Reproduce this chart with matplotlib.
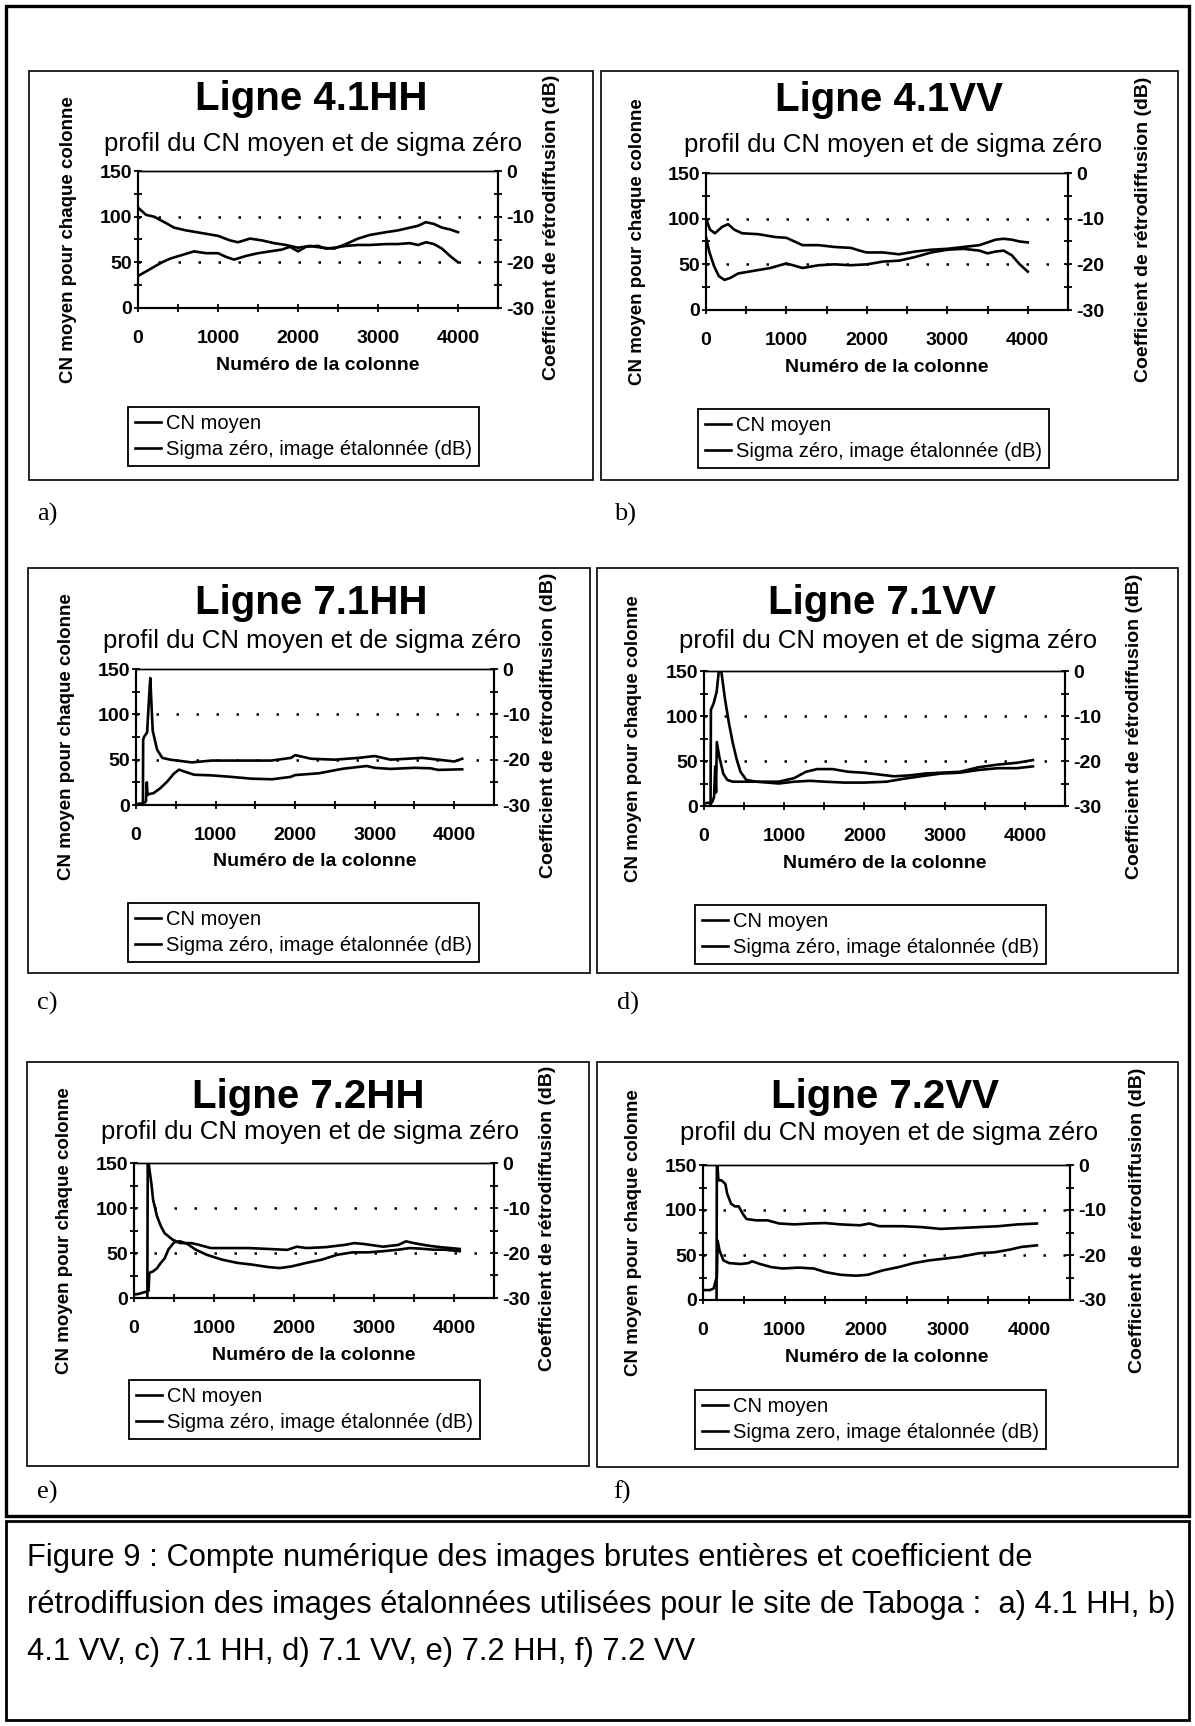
import matplotlib
matplotlib.use("Agg")
import matplotlib.pyplot as plt
from matplotlib.patches import Rectangle
from matplotlib.ticker import FixedLocator

plt.rcParams["font.family"] = ["Liberation Sans", "DejaVu Sans"]

# ---------------------------------------------------------------- data
# Column numbers and profiles: CN moyen (left axis, 0-150) and
# sigma zero in dB (right axis, -30..0). Values below -30 dB are off-scale.

hh41_cn_x = [0, 100, 200, 300, 400, 550, 700, 850, 1000, 1100, 1200, 1350, 1500, 1650,
             1800, 1900, 2000, 2100, 2250, 2350, 2450, 2600, 2750, 2900, 3100, 3250,
             3400, 3500, 3600, 3700, 3800, 3900, 4000]
hh41_cn = [35, 40, 45, 50, 54, 58, 62, 60, 60, 56, 53, 57, 60, 62, 64, 67, 62, 67, 68, 65,
           66, 68, 69, 69, 70, 70, 71, 69, 72, 70, 65, 57, 50]
hh41_sig_x = [0, 100, 200, 350, 450, 600, 800, 1000, 1150, 1250, 1400, 1550, 1700, 1850,
              2000, 2150, 2300, 2450, 2600, 2750, 2900, 3100, 3250, 3400, 3500, 3600,
              3700, 3800, 3900, 4000]
hh41_sig = [-8.0, -9.6, -10.0, -11.4, -12.4, -13.0, -13.6, -14.2, -15.2, -15.6, -14.8,
            -15.2, -15.8, -16.2, -16.8, -16.4, -16.8, -17.0, -16.0, -14.8, -14.0, -13.4,
            -13.0, -12.4, -12.0, -11.2, -11.6, -12.4, -12.8, -13.4]

vv41_cn_x = [0, 40, 100, 160, 230, 300, 400, 600, 800, 1000, 1200, 1400, 1600, 1800,
             2000, 2200, 2400, 2600, 2800, 3000, 3200, 3400, 3500, 3600, 3700, 3800,
             3900, 4000]
vv41_cn = [80, 64, 48, 37, 33, 35, 40, 43, 46, 51, 46, 49, 50, 49, 50, 53, 54, 58, 63, 66,
           67, 65, 62, 64, 65, 60, 50, 42]
vv41_sig_x = [0, 50, 110, 200, 275, 350, 450, 650, 850, 1000, 1100, 1200, 1400, 1600,
              1800, 1950, 2000, 2200, 2400, 2600, 2800, 3000, 3200, 3400, 3600, 3700,
              3800, 3900, 4000]
vv41_sig = [-10.0, -12.4, -13.2, -11.8, -11.2, -12.4, -13.2, -13.4, -14.0, -14.2, -15.0,
            -15.8, -15.8, -16.2, -16.4, -17.2, -17.4, -17.4, -17.8, -17.2, -16.8, -16.6,
            -16.2, -15.8, -14.6, -14.4, -14.6, -15.0, -15.2]

hh71_cn_x = [0, 100, 125, 136, 145, 160, 220, 305, 390, 475, 540, 605, 730, 945, 1200,
             1455, 1710, 1945, 2000, 2300, 2600, 2800, 2900, 3000, 3200, 3500, 3700,
             3800, 4100]
hh71_cn = [1, 2, 4, 25, 11, 12, 13, 18.5, 25.6, 34.5, 39, 37, 33.4, 32.7, 31, 29, 28.4,
           31, 33, 35, 40, 42, 43, 41, 39.8, 41, 40.5, 38.7, 39.4]
hh71_sig_x = [0, 85, 90, 100, 140, 165, 180, 195, 210, 265, 330, 430, 700, 950, 1200,
              1450, 1700, 1950, 2000, 2200, 2500, 2800, 3000, 3200, 3400, 3600, 3800,
              4000, 4100]
hh71_sig = [-40.0, -40.0, -15.6, -15.0, -14.0, -6.0, -2.0, -8.0, -13.6, -17.8, -19.6,
            -20.0, -20.6, -20.2, -20.2, -20.2, -20.2, -19.6, -19.0, -19.8, -20.0, -19.6,
            -19.2, -20.0, -19.8, -19.6, -20.0, -20.4, -19.8]

vv71_cn_x = [0, 100, 125, 140, 150, 160, 190, 240, 290, 360, 450, 650, 930, 1125, 1270,
             1410, 1600, 1800, 1990, 2180, 2370, 2560, 2750, 2950, 3190, 3420, 3660,
             3900, 4100]
vv71_cn = [3, 4, 10, 44, 15, 71, 55, 36, 29, 27, 27, 27, 27, 31, 38, 41, 41, 38, 37, 35,
           33, 34, 36, 37, 38, 43, 46, 48, 51]
vv71_sig_x = [0, 80, 86, 120, 158, 196, 215, 263, 311, 359, 407, 455, 527, 650, 930,
              1125, 1320, 1510, 1750, 1990, 2275, 2470, 2700, 2950, 3190, 3420, 3660,
              3900, 4100]
vv71_sig = [-40.0, -40.0, -8.6, -7.2, -4.6, 2.0, 0.0, -6.4, -11.6, -16.0, -19.6, -22.4,
            -24.2, -24.6, -25.0, -24.6, -24.4, -24.6, -24.8, -24.8, -24.6, -24.0, -23.4,
            -22.8, -22.6, -22.0, -21.6, -21.6, -21.2]

hh72_cn_x = [0, 50, 168, 182, 192, 239, 287, 335, 383, 431, 503, 575, 670, 766, 910,
             1101, 1293, 1485, 1676, 1820, 1964, 2155, 2347, 2538, 2730, 2921, 3113,
             3305, 3448, 3592, 3736, 3879, 4071]
hh72_cn = [4, 4.4, 7.4, 8, 28, 29.6, 33, 39, 44, 54, 62, 63, 60, 54, 48, 42.6, 39, 37,
           34.4, 33.3, 35, 39, 42.6, 48, 50.7, 50.7, 52, 53.7, 55.5, 54.8, 53.7, 53.7, 52]
hh72_sig_x = [0, 165, 172, 182, 216, 239, 287, 335, 383, 479, 575, 718, 814, 958, 1197,
              1437, 1676, 1916, 2035, 2155, 2395, 2634, 2754, 2874, 3113, 3305, 3400,
              3496, 3688, 3831, 4071]
hh72_sig = [-40.0, -40.0, 2.0, 0.0, -4.4, -8.2, -11.8, -14.0, -15.6, -17.0, -17.8, -17.8,
            -18.2, -18.9, -18.9, -18.9, -19.1, -19.3, -18.6, -18.9, -18.7, -18.2, -17.8,
            -18.0, -18.6, -18.2, -17.4, -17.8, -18.4, -18.7, -19.1]

vv72_cn_x = [0, 85, 132, 156, 170, 179, 203, 250, 321, 462, 557, 604, 698, 840, 981,
             1170, 1358, 1500, 1689, 1877, 2019, 2208, 2396, 2585, 2774, 2962, 3151,
             3387, 3575, 3764, 3906, 4094]
vv72_cn = [11, 11, 13, 21.6, 25, 66, 55, 44, 41, 40, 41, 43, 40, 36.5, 35, 36, 35, 31,
           28, 27, 28, 33, 36.5, 41, 44, 46, 48, 52, 53, 56, 59, 60.7]
vv72_sig_x = [0, 165, 170, 189, 226, 274, 297, 344, 392, 439, 486, 533, 651, 792, 934,
              1123, 1311, 1500, 1689, 1925, 2042, 2160, 2443, 2679, 2915, 3151, 3387,
              3623, 3858, 4094]
vv72_sig = [-40.0, -40.0, 2.0, -3.4, -3.4, -4.2, -6.4, -8.6, -9.2, -9.2, -10.8, -12.0,
            -12.3, -12.3, -13.0, -13.2, -13.0, -12.9, -13.2, -13.4, -13.0, -13.6, -13.6,
            -13.8, -14.2, -14.0, -13.8, -13.6, -13.2, -13.0]

titles = ["Ligne 4.1HH", "Ligne 4.1VV", "Ligne 7.1HH", "Ligne 7.1VV",
          "Ligne 7.2HH", "Ligne 7.2VV"]
tags = ["a)", "b)", "c)", "d)", "e)", "f)"]
subtitle = "profil du CN moyen et de sigma zéro"
legend_cn = "CN moyen"
legend_sig = ["Sigma zéro, image étalonnée (dB)"] * 5 + ["Sigma zero, image étalonnée (dB)"]
xlabel = "Numéro de la colonne"
ylabel_left = "CN moyen pour chaque colonne"
ylabel_right = "Coefficient de rétrodiffusion (dB)"
x_ticks = [0, 1000, 2000, 3000, 4000]
cn_ticks = [0, 50, 100, 150]
db_ticks = [-30, -20, -10, 0]
db_tick_labels = ["-30", "-20", "-10", "0"]
caption_lines = [
    "Figure 9 : Compte numérique des images brutes entières et coefficient de",
    "rétrodiffusion des images étalonnées utilisées pour le site de Taboga :  a) 4.1 HH, b)",
    "4.1 VV, c) 7.1 HH, d) 7.1 VV, e) 7.2 HH, f) 7.2 VV",
]

series = [
    (hh41_cn_x, hh41_cn, hh41_sig_x, hh41_sig),
    (vv41_cn_x, vv41_cn, vv41_sig_x, vv41_sig),
    (hh71_cn_x, hh71_cn, hh71_sig_x, hh71_sig),
    (vv71_cn_x, vv71_cn, vv71_sig_x, vv71_sig),
    (hh72_cn_x, hh72_cn, hh72_sig_x, hh72_sig),
    (vv72_cn_x, vv72_cn, vv72_sig_x, vv72_sig),
]

# ---------------------------------------------------------------- layout (pixels)
W, H = 1195, 1726
layout = [
    # chart box, plot area, title centre/baseline, subtitle centre/baseline,
    # y-label x positions, legend top-left, tag position
    dict(box=(29, 71, 593, 480), plot=(138, 171, 498, 308), tx=311, ty=110, sx=313,
         sy=151, yl=69, yr=551, leg=(128, 407), tag=(37, 514)),
    dict(box=(601, 71, 1178, 480), plot=(706, 173, 1068, 310), tx=889, ty=111, sx=893,
         sy=152, yl=637, yr=1143, leg=(698, 409), tag=(614, 514)),
    dict(box=(28, 568, 590, 973), plot=(136, 669, 494, 805), tx=311, ty=614, sx=312,
         sy=648, yl=67, yr=549, leg=(128, 903), tag=(37, 1003)),
    dict(box=(597, 568, 1178, 973), plot=(704, 671, 1065, 806), tx=882, ty=614, sx=888,
         sy=648, yl=634, yr=1135, leg=(695, 905), tag=(617, 1003)),
    dict(box=(27, 1062, 589, 1466), plot=(134, 1163, 494, 1298), tx=308, ty=1108, sx=310,
         sy=1139, yl=65, yr=548, leg=(129, 1380), tag=(37, 1492)),
    dict(box=(597, 1062, 1178, 1467), plot=(703, 1165, 1070, 1300), tx=885, ty=1108,
         sx=889, sy=1140, yl=634, yr=1137, leg=(695, 1390), tag=(613, 1492)),
]

fig = plt.figure(figsize=(W / 100, H / 100), dpi=100)
fig.patch.set_facecolor("white")


def fx(x):
    return x / W


def fy(y):
    return 1 - y / H


def frame(x0, y0, x1, y1, lw):
    fig.add_artist(Rectangle((fx(x0), fy(y1)), fx(x1) - fx(x0), fy(y0) - fy(y1),
                             transform=fig.transFigure, fill=False,
                             edgecolor="black", linewidth=lw))


# outer frame and caption box
frame(6, 6, 1189, 1516, 2.4)
frame(6, 1521, 1189, 1720, 2.0)
for k, line in enumerate(caption_lines):
    fig.text(fx(27), fy(1566 + 47 * k), line, ha="left", va="baseline",
             fontsize=22.2, color="black")

LW = 1.9
for i, (spec, (cx, cy, sx, sy)) in enumerate(zip(layout, series)):
    bx0, by0, bx1, by1 = spec["box"]
    frame(bx0, by0, bx1, by1, 1.2)

    px0, py0, px1, py1 = spec["plot"]
    pw, ph = px1 - px0, py1 - py0
    ax = fig.add_axes([fx(px0), fy(py1), pw / W, ph / H])
    ax2 = ax.twinx()

    l_cn, = ax.plot(cx, cy, color="black", lw=LW)
    l_sig, = ax2.plot(sx, sy, color="black", lw=LW)

    ax.set_xlim(0, 4500)
    ax.set_ylim(0, 150)
    ax2.set_ylim(-30, 0)
    ax.set_facecolor("none")

    ax.set_xticks(x_ticks)
    ax.xaxis.set_minor_locator(FixedLocator([500, 1500, 2500, 3500]))
    ax.set_yticks(cn_ticks)
    ax.yaxis.set_minor_locator(FixedLocator([25, 75, 125]))
    ax2.set_yticks(db_ticks, labels=db_tick_labels)
    ax2.yaxis.set_minor_locator(FixedLocator([-25, -15, -5]))

    # dotted major grid (interior levels only)
    ax.grid(axis="y", which="major", color="black", linestyle=(0, (1, 7)), linewidth=1.8)
    gl = ax.get_ygridlines()
    gl[0].set_visible(False)
    gl[-1].set_visible(False)

    ax.tick_params(axis="both", which="both", direction="inout", length=6, width=1.3,
                   labelsize=14)
    ax.tick_params(axis="x", which="both", pad=13, top=False)
    ax.tick_params(axis="y", which="both", pad=1, right=False)
    ax2.tick_params(axis="y", which="both", direction="inout", length=6, width=1.3,
                    labelsize=14, pad=3)
    for lab in ax.get_xticklabels() + ax.get_yticklabels() + ax2.get_yticklabels():
        lab.set_fontweight("bold")

    for a in (ax, ax2):
        for side in ("left", "right", "bottom"):
            a.spines[side].set_linewidth(1.5)
        a.spines["top"].set_linewidth(1.0)

    ax.set_xlabel(xlabel, fontsize=14, fontweight="bold")
    ax.xaxis.label.set_va("center")
    ax.xaxis.set_label_coords(0.5, -57 / ph)

    ax.set_ylabel(ylabel_left, fontsize=13.5, fontweight="bold")
    ax.yaxis.label.set_va("center")
    ax.yaxis.set_label_coords((spec["yl"] - px0) / pw, 0.5)

    ax2.set_ylabel(ylabel_right, fontsize=14, fontweight="bold", rotation=90)
    ax2.yaxis.label.set_va("center")
    ax2.yaxis.set_label_coords((spec["yr"] - px0) / pw, 0.5 + 12 / ph)

    # titles
    fig.text(fx(spec["tx"]), fy(spec["ty"]), titles[i], ha="center", va="baseline",
             fontsize=29, fontweight="bold")
    fig.text(fx(spec["sx"]), fy(spec["sy"]), subtitle, ha="center",
             va="baseline", fontsize=18.5)

    # legend
    lx, ly = spec["leg"]
    leg = ax2.legend([l_cn, l_sig], [legend_cn, legend_sig[i]], loc="upper left",
                     bbox_to_anchor=(fx(lx), fy(ly)), bbox_transform=fig.transFigure,
                     frameon=True, fancybox=False, shadow=False, edgecolor="black",
                     framealpha=1, fontsize=14.5, handlelength=1.3, handletextpad=0.25,
                     borderpad=0.35, labelspacing=0.35, borderaxespad=0)
    leg.get_frame().set_linewidth(1.3)

    tx, ty = spec["tag"]
    fig.text(fx(tx), fy(ty), tags[i], ha="left", va="center", fontsize=19,
             family=["Liberation Serif", "DejaVu Serif"])

fig.savefig("out.png", dpi=100, facecolor="white")
